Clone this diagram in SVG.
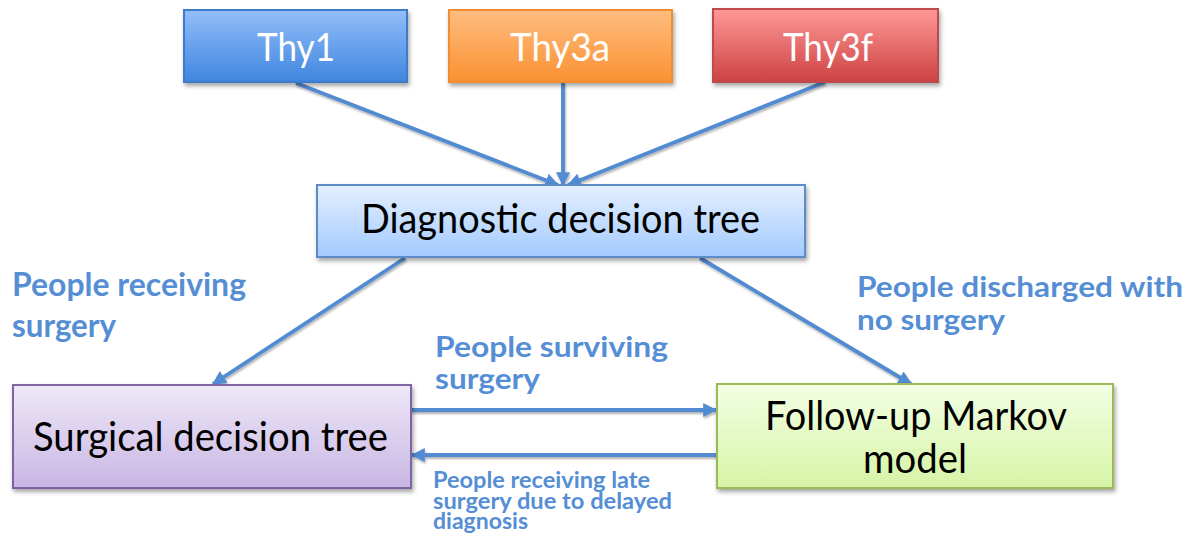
<svg xmlns="http://www.w3.org/2000/svg" width="1202" height="538" viewBox="0 0 1202 538">
  <defs>
    <linearGradient id="gBlue" x1="0" y1="0" x2="0" y2="1">
      <stop offset="0" stop-color="#93BEFA"/>
      <stop offset="1" stop-color="#3F85DF"/>
    </linearGradient>
    <linearGradient id="gOrange" x1="0" y1="0" x2="0" y2="1">
      <stop offset="0" stop-color="#FFBD80"/>
      <stop offset="1" stop-color="#FA9132"/>
    </linearGradient>
    <linearGradient id="gRed" x1="0" y1="0" x2="0" y2="1">
      <stop offset="0" stop-color="#FF9898"/>
      <stop offset="1" stop-color="#CD4242"/>
    </linearGradient>
    <linearGradient id="gPale" x1="0" y1="0" x2="0" y2="1">
      <stop offset="0" stop-color="#E4F0FF"/>
      <stop offset="1" stop-color="#A3CAFF"/>
    </linearGradient>
    <linearGradient id="gLilac" x1="0" y1="0" x2="0" y2="1">
      <stop offset="0" stop-color="#EEE8F8"/>
      <stop offset="1" stop-color="#C8B6E3"/>
    </linearGradient>
    <linearGradient id="gLime" x1="0" y1="0" x2="0" y2="1">
      <stop offset="0" stop-color="#F3FFE4"/>
      <stop offset="1" stop-color="#D6F4A6"/>
    </linearGradient>
    <filter id="shadow" x="-10%" y="-20%" width="125%" height="150%">
      <feDropShadow dx="1.5" dy="3" stdDeviation="2" flood-color="#000" flood-opacity="0.35"/>
    </filter>
    <filter id="lineShadow" x="-10%" y="-10%" width="120%" height="120%">
      <feDropShadow dx="1" dy="2" stdDeviation="1.2" flood-color="#000" flood-opacity="0.3"/>
    </filter>
    <marker id="head" viewBox="0 0 12 12" refX="11" refY="6" markerWidth="14" markerHeight="14" markerUnits="userSpaceOnUse" orient="auto">
      <path d="M0,0 L12,6 L0,12 Z" fill="#528BD2"/>
    </marker>
  </defs>
  <style>
    .box { stroke-width: 2; filter: url(#shadow); }
    .title { font-family: Lato, "Open Sans", "Liberation Sans", sans-serif; font-size: 39px; fill: #FFFFFF; text-anchor: middle; }
    .name { font-family: Lato, "Open Sans", "Liberation Sans", sans-serif; font-size: 40px; fill: #000000; }
    .edge { stroke: #528BD2; stroke-width: 3.8; fill: none; marker-end: url(#head); }
    .flow { font-family: Lato, "Open Sans", "Liberation Sans", sans-serif; font-weight: bold; fill: #558ED5; }
  </style>

  <rect width="1202" height="538" fill="#FFFFFF"/>

  <!-- connectors -->
  <g id="connectors" filter="url(#lineShadow)">
    <line class="edge" x1="296" y1="83" x2="558" y2="185"/>
    <line class="edge" x1="563" y1="82" x2="563" y2="185"/>
    <line class="edge" x1="825" y1="82" x2="568" y2="185"/>
    <line class="edge" x1="405" y1="258" x2="213" y2="384"/>
    <line class="edge" x1="700" y1="258" x2="911" y2="384"/>
    <line class="edge" x1="411" y1="410" x2="716" y2="410"/>
    <line class="edge" x1="717" y1="455" x2="412" y2="455"/>
  </g>

  <!-- cytology categories -->
  <g id="thy1">
    <rect class="box" x="184" y="10" width="223" height="72" fill="url(#gBlue)" stroke="#3C7CCB"/>
    <text class="title" x="296" y="61" textLength="78" lengthAdjust="spacingAndGlyphs">Thy1</text>
  </g>
  <g id="thy3a">
    <rect class="box" x="449" y="10" width="223" height="72" fill="url(#gOrange)" stroke="#F08C32"/>
    <text class="title" x="560" y="61" textLength="100" lengthAdjust="spacingAndGlyphs">Thy3a</text>
  </g>
  <g id="thy3f">
    <rect class="box" x="713" y="9" width="225" height="73" fill="url(#gRed)" stroke="#BE4B4B"/>
    <text class="title" x="828" y="61" textLength="90" lengthAdjust="spacingAndGlyphs">Thy3f</text>
  </g>

  <!-- model components -->
  <g id="diagnostic">
    <rect class="box" x="317" y="185" width="488" height="72" fill="url(#gPale)" stroke="#5B8BC8"/>
    <text class="name" x="361" y="233" font-size="43" textLength="399" lengthAdjust="spacingAndGlyphs">Diagnostic decision tree</text>
  </g>
  <g id="surgical">
    <rect class="box" x="13" y="385" width="398" height="103" fill="url(#gLilac)" stroke="#8064A2"/>
    <text class="name" x="33" y="451" font-size="38" textLength="355" lengthAdjust="spacingAndGlyphs">Surgical decision tree</text>
  </g>
  <g id="followup">
    <rect class="box" x="717" y="384" width="396" height="104" fill="url(#gLime)" stroke="#9BBB59"/>
    <text class="name" x="765" y="430" font-size="36" textLength="302" lengthAdjust="spacingAndGlyphs">Follow-up Markov</text>
    <text class="name" x="863" y="473" font-size="36" textLength="104" lengthAdjust="spacingAndGlyphs">model</text>
  </g>

  <!-- flow labels -->
  <g id="label-surgery">
    <text class="flow" x="12" y="296" font-size="32" textLength="234" lengthAdjust="spacingAndGlyphs">People receiving</text>
    <text class="flow" x="12" y="337" font-size="32" textLength="104" lengthAdjust="spacingAndGlyphs">surgery</text>
  </g>
  <g id="label-discharged">
    <text class="flow" x="857" y="297" font-size="28" textLength="326" lengthAdjust="spacingAndGlyphs">People discharged with</text>
    <text class="flow" x="857" y="330" font-size="28" textLength="148" lengthAdjust="spacingAndGlyphs">no surgery</text>
  </g>
  <g id="label-surviving">
    <text class="flow" x="435" y="357" font-size="28" textLength="233" lengthAdjust="spacingAndGlyphs">People surviving</text>
    <text class="flow" x="435" y="389" font-size="28" textLength="105" lengthAdjust="spacingAndGlyphs">surgery</text>
  </g>
  <g id="label-late">
    <text class="flow" x="433" y="488" font-size="22" textLength="217" lengthAdjust="spacingAndGlyphs">People receiving late</text>
    <text class="flow" x="433" y="508.5" font-size="22" textLength="239" lengthAdjust="spacingAndGlyphs">surgery due to delayed</text>
    <text class="flow" x="433" y="529" font-size="22" textLength="95" lengthAdjust="spacingAndGlyphs">diagnosis</text>
  </g>
</svg>
